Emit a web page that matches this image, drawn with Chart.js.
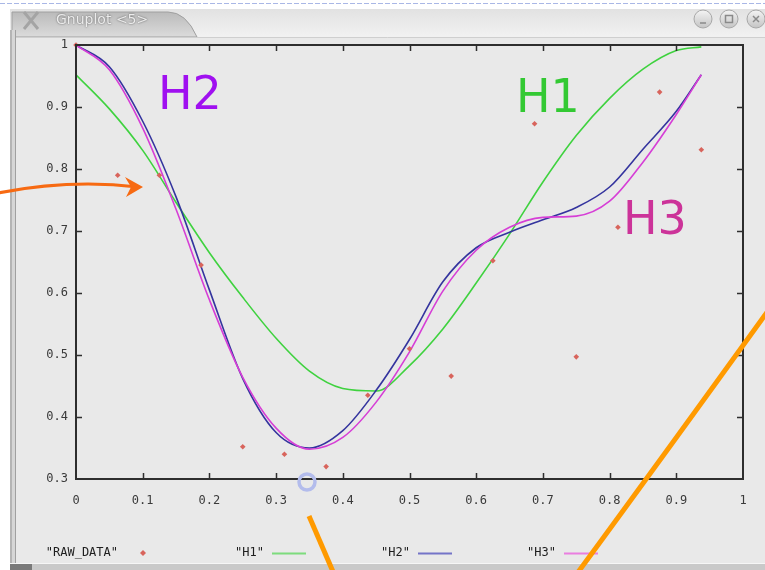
<!DOCTYPE html>
<html>
<head>
<meta charset="utf-8">
<script src="https://cdn.jsdelivr.net/npm/chart.js@4.4.1/dist/chart.umd.min.js"></script>
<style>
  html, body { margin: 0; padding: 0; background: #fff; }
  #wrap { width: 765px; height: 570px; }
</style>
</head>
<body>
<div id="wrap"><canvas id="myChart" width="765" height="570"></canvas></div>
<script>
// Raw sample points
const rawX = [0, 0.0625, 0.125, 0.1875, 0.25, 0.3125, 0.375, 0.4375, 0.5, 0.5625, 0.625, 0.6875, 0.75, 0.8125, 0.875, 0.9375];
const rawY = [1.0, 0.79, 0.79, 0.645, 0.352, 0.34, 0.32, 0.435, 0.51, 0.466, 0.652, 0.873, 0.497, 0.706, 0.924, 0.831];

// The three fitted curves, read at these x positions
const curveX   = [0, 0.05, 0.1, 0.15, 0.2, 0.25, 0.3, 0.35, 0.4, 0.45, 0.5, 0.55, 0.6, 0.65, 0.7, 0.75, 0.8, 0.85, 0.9, 0.9375];
const h1Values = [0.952, 0.897, 0.83, 0.746, 0.665, 0.593, 0.527, 0.474, 0.446, 0.442, 0.483, 0.542, 0.616, 0.695, 0.779, 0.854, 0.914, 0.961, 0.991, 0.997];
const h2Values = [1.0, 0.965, 0.877, 0.755, 0.605, 0.462, 0.375, 0.35, 0.378, 0.443, 0.525, 0.618, 0.673, 0.698, 0.718, 0.738, 0.771, 0.832, 0.893, 0.952];
const h3Values = [1.0, 0.96, 0.866, 0.735, 0.589, 0.464, 0.382, 0.348, 0.367, 0.424, 0.505, 0.603, 0.669, 0.706, 0.722, 0.724, 0.748, 0.811, 0.888, 0.952];

const xTicks = { min: 0, max: 1, step: 0.1 };
const yTicks = { min: 0.3, max: 1, step: 0.1 };

const monoFont = "'DejaVu Sans Mono', monospace";

function toPoints(xs, ys) {
    return xs.map((x, i) => ({ x: x, y: ys[i] }));
}

// gnuplot prints 1 and 0 without decimals
function tickText(value) {
    return String(Number(value.toFixed(1)));
}

// Grey window chrome behind everything
const windowFrame = {
    id: 'windowFrame',
    beforeDraw(chart) {
        const ctx = chart.ctx;
        ctx.save();
        ctx.fillStyle = '#ffffff';
        ctx.fillRect(0, 0, 765, 570);

        // dotted blue line at the very top
        ctx.strokeStyle = '#a9b7e6';
        ctx.lineWidth = 1;
        ctx.setLineDash([5, 2]);
        ctx.beginPath(); ctx.moveTo(0, 3.5); ctx.lineTo(765, 3.5); ctx.stroke();
        ctx.setLineDash([]);

        // title bar
        let g = ctx.createLinearGradient(0, 9, 0, 36);
        g.addColorStop(0, '#e2e2e2');
        g.addColorStop(1, '#f1f1f1');
        ctx.fillStyle = g;
        ctx.fillRect(10, 9, 755, 28);

        // tab
        g = ctx.createLinearGradient(0, 11, 0, 36);
        g.addColorStop(0, '#b9b9b9');
        g.addColorStop(1, '#dadada');
        ctx.fillStyle = g;
        ctx.beginPath();
        ctx.moveTo(12, 37); ctx.lineTo(12, 12); ctx.lineTo(168, 12);
        ctx.quadraticCurveTo(186, 12, 197, 37);
        ctx.closePath();
        ctx.fill();
        ctx.strokeStyle = '#a0a0a0';
        ctx.stroke();

        // X icon
        ctx.strokeStyle = '#a4a4a4';
        ctx.lineWidth = 3;
        ctx.beginPath();
        ctx.moveTo(24, 12); ctx.lineTo(38, 29);
        ctx.moveTo(38, 12); ctx.lineTo(24, 29);
        ctx.stroke();

        // tab title
        ctx.font = "14px 'DejaVu Sans', sans-serif";
        ctx.textBaseline = 'middle';
        ctx.shadowColor = 'rgba(0,0,0,0.6)';
        ctx.shadowBlur = 2;
        ctx.fillStyle = '#ececec';
        ctx.fillText('Gnuplot <5>', 56, 20);
        ctx.shadowColor = 'transparent';
        ctx.shadowBlur = 0;

        // window buttons
        [703, 729, 756].forEach((cx, i) => {
            const bg = ctx.createLinearGradient(0, 10, 0, 28);
            bg.addColorStop(0, '#f4f4f4');
            bg.addColorStop(1, '#c4c4c4');
            ctx.fillStyle = bg;
            ctx.beginPath(); ctx.arc(cx, 19, 9, 0, Math.PI * 2); ctx.fill();
            ctx.strokeStyle = '#a8a8a8'; ctx.lineWidth = 1; ctx.stroke();
            ctx.strokeStyle = '#8a8a8a'; ctx.lineWidth = 1.5;
            ctx.beginPath();
            if (i === 0) { ctx.moveTo(cx - 3, 23); ctx.lineTo(cx + 3, 23); }
            if (i === 1) { ctx.rect(cx - 3.5, 15.5, 7, 7); }
            if (i === 2) { ctx.moveTo(cx - 3, 16); ctx.lineTo(cx + 3, 22); ctx.moveTo(cx + 3, 16); ctx.lineTo(cx - 3, 22); }
            ctx.stroke();
        });

        // window body
        ctx.fillStyle = '#e9e9e9';
        ctx.fillRect(10, 37, 755, 527);
        ctx.strokeStyle = '#cfcfcf';
        ctx.lineWidth = 1;
        ctx.beginPath(); ctx.moveTo(10, 37.5); ctx.lineTo(765, 37.5); ctx.stroke();

        // left frame edge
        ctx.fillStyle = '#b4b4b4';
        ctx.fillRect(10, 30, 2, 540);
        ctx.fillStyle = '#d6d6d6';
        ctx.fillRect(12, 30, 3, 540);
        ctx.fillStyle = '#a0a0a0';
        ctx.fillRect(15, 30, 1, 540);

        // bottom bar
        ctx.fillStyle = '#f6f6f6';
        ctx.fillRect(10, 563, 755, 1);
        ctx.fillStyle = '#c9c9c9';
        ctx.fillRect(10, 564, 755, 6);
        ctx.fillStyle = '#7a7a7a';
        ctx.fillRect(10, 564, 22, 6);
        ctx.restore();
    }
};

// Inward tick marks and the dark border box, gnuplot style
const plotBorder = {
    id: 'plotBorder',
    afterDatasetsDraw(chart) {
        const ctx = chart.ctx;
        const a = chart.chartArea;
        const xs = chart.scales.x, ys = chart.scales.y;
        ctx.save();
        ctx.strokeStyle = '#2e2e2e';
        ctx.lineWidth = 1.5;
        ctx.beginPath();
        xs.ticks.forEach(t => {
            if (t.value <= xTicks.min || t.value >= xTicks.max) return;
            const px = Math.round(xs.getPixelForValue(t.value)) + 0.5;
            ctx.moveTo(px, a.bottom); ctx.lineTo(px, a.bottom - 6);
            ctx.moveTo(px, a.top); ctx.lineTo(px, a.top + 6);
        });
        ys.ticks.forEach(t => {
            if (t.value <= yTicks.min + 1e-9 || t.value >= yTicks.max - 1e-9) return;
            const py = Math.round(ys.getPixelForValue(t.value)) + 0.5;
            ctx.moveTo(a.left, py); ctx.lineTo(a.left + 6, py);
            ctx.moveTo(a.right, py); ctx.lineTo(a.right - 6, py);
        });
        ctx.stroke();
        ctx.lineWidth = 2;
        ctx.strokeRect(a.left, a.top, a.right - a.left, a.bottom - a.top);
        ctx.restore();
    }
};

// Key along the bottom: text first, then the sample
const gnuKey = {
    id: 'gnuKey',
    afterDraw(chart) {
        const ctx = chart.ctx;
        ctx.save();
        ctx.font = '12px ' + monoFont;
        ctx.textBaseline = 'middle';
        ctx.textAlign = 'right';
        const y = 553;
        chart.data.datasets.forEach((ds, i) => {
            const end = 118 + i * 146;
            ctx.fillStyle = '#1e1e1e';
            ctx.fillText('"' + ds.label + '"', end, y);
            if (ds.showLine === false) {
                ctx.fillStyle = ds.pointBackgroundColor;
                ctx.beginPath();
                ctx.moveTo(end + 25, y - 3); ctx.lineTo(end + 28, y); ctx.lineTo(end + 25, y + 3); ctx.lineTo(end + 22, y);
                ctx.closePath(); ctx.fill();
            } else {
                ctx.strokeStyle = ds.keyColor;
                ctx.lineWidth = 2;
                ctx.beginPath(); ctx.moveTo(end + 8, y + 0.5); ctx.lineTo(end + 42, y + 0.5); ctx.stroke();
            }
        });
        ctx.restore();
    }
};

// Hand-drawn notes on top of the screenshot
const handNotes = {
    id: 'handNotes',
    afterDraw(chart) {
        const ctx = chart.ctx;
        ctx.save();
        ctx.font = "46px 'DejaVu Sans', sans-serif";
        ctx.textBaseline = 'alphabetic';
        ctx.textAlign = 'left';
        ctx.fillStyle = '#a010f0';
        ctx.fillText('H2', 158, 109);
        ctx.fillStyle = '#33c933';
        ctx.fillText('H1', 516, 112);
        ctx.fillStyle = '#cc3399';
        ctx.fillText('H3', 623, 234);

        // arrow from the left edge
        ctx.strokeStyle = '#f76a12';
        ctx.lineWidth = 3;
        ctx.lineCap = 'round';
        ctx.beginPath();
        ctx.moveTo(-2, 193);
        ctx.quadraticCurveTo(70, 179, 138, 187);
        ctx.stroke();
        ctx.fillStyle = '#f76a12';
        ctx.beginPath();
        ctx.moveTo(143, 187); ctx.lineTo(125, 177); ctx.lineTo(131, 187); ctx.lineTo(126, 197);
        ctx.closePath(); ctx.fill();

        // orange strokes
        ctx.strokeStyle = '#ff9a00';
        ctx.lineWidth = 5;
        ctx.lineCap = 'butt';
        ctx.beginPath(); ctx.moveTo(309, 516); ctx.lineTo(334, 574); ctx.stroke();
        ctx.beginPath(); ctx.moveTo(770, 308); ctx.quadraticCurveTo(664, 455, 576, 575); ctx.stroke();

        // small blue ring on the x axis
        ctx.strokeStyle = '#b3bcec';
        ctx.lineWidth = 3.5;
        ctx.beginPath(); ctx.arc(307, 482, 8, 0, Math.PI * 2); ctx.stroke();
        ctx.restore();
    }
};

const ctx = document.getElementById('myChart').getContext('2d');
new Chart(ctx, {
    type: 'scatter',
    data: {
        datasets: [{
            label: 'RAW_DATA',
            data: toPoints(rawX, rawY),
            showLine: false,
            pointStyle: 'rectRot',
            pointRadius: 2.8,
            pointBackgroundColor: '#d8645c',
            pointBorderWidth: 0,
            clip: false,
            order: 0
        }, {
            label: 'H1',
            data: toPoints(curveX, h1Values),
            showLine: true,
            borderColor: '#3fd23f',
            keyColor: '#7ddc7d',
            borderWidth: 1.6,
            pointRadius: 0,
            cubicInterpolationMode: 'monotone',
            order: 3
        }, {
            label: 'H2',
            data: toPoints(curveX, h2Values),
            showLine: true,
            borderColor: '#34349e',
            keyColor: '#7474c8',
            borderWidth: 1.6,
            pointRadius: 0,
            cubicInterpolationMode: 'monotone',
            order: 2
        }, {
            label: 'H3',
            data: toPoints(curveX, h3Values),
            showLine: true,
            borderColor: '#d63ed6',
            keyColor: '#ea7ee0',
            borderWidth: 1.6,
            pointRadius: 0,
            cubicInterpolationMode: 'monotone',
            order: 1
        }]
    },
    options: {
        responsive: false,
        animation: false,
        events: [],
        layout: { padding: { top: 45, right: 22, left: 0, bottom: 0 } },
        scales: {
            x: {
                type: 'linear',
                min: xTicks.min,
                max: xTicks.max,
                grid: { display: false, drawTicks: false },
                border: { display: false },
                ticks: {
                    stepSize: xTicks.step,
                    padding: 15,
                    color: '#3a3a3a',
                    font: { family: monoFont, size: 12 },
                    callback: tickText
                },
                afterFit: scale => { scale.height = 91; }
            },
            y: {
                type: 'linear',
                min: yTicks.min,
                max: yTicks.max,
                grid: { display: false, drawTicks: false },
                border: { display: false },
                ticks: {
                    stepSize: yTicks.step,
                    padding: 8,
                    color: '#3a3a3a',
                    font: { family: monoFont, size: 12 },
                    callback: tickText
                },
                afterFit: scale => { scale.width = 76; }
            }
        },
        plugins: {
            legend: { display: false },
            tooltip: { enabled: false }
        }
    },
    plugins: [windowFrame, plotBorder, gnuKey, handNotes]
});
</script>
</body>
</html>
